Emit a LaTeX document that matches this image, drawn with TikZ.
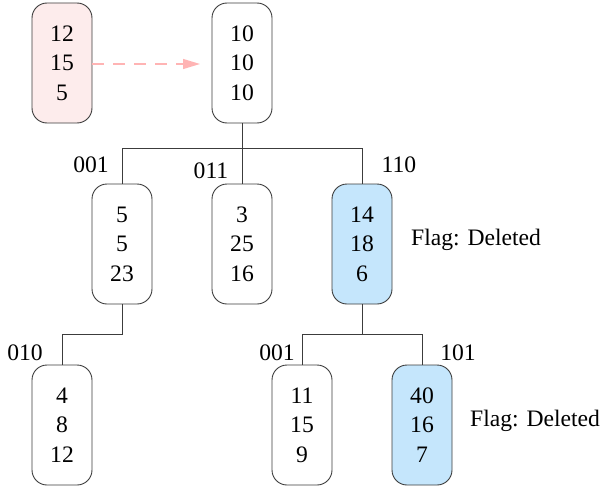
\documentclass[tikz,border=0pt]{standalone}
\usepackage{fontspec}
\setmainfont{Liberation Serif}
\usetikzlibrary{arrows.meta}
\definecolor{edgegray}{RGB}{60,60,60}
\definecolor{pinkfill}{RGB}{253,236,236}
\definecolor{bluefill}{RGB}{197,230,252}
\definecolor{arrowpink}{RGB}{255,180,180}
\tikzset{
  keybox/.style={draw=edgegray, line width=0.9pt, rounded corners=15pt,
    minimum width=60pt, minimum height=120pt, inner sep=0pt, align=center,
    font=\fontsize{23.6}{29.5}\selectfont},
  pinkbox/.style={keybox, fill=pinkfill},
  bluebox/.style={keybox, fill=bluefill},
  lbl/.style={font=\fontsize{23.6}{28}\selectfont, inner sep=0pt},
  link/.style={draw=edgegray, line width=0.9pt},
}
\begin{document}
\begin{tikzpicture}[x=1pt,y=-1pt]
  \useasboundingbox (0,0) rectangle (602,487);
  % nodes of the tree
  \node[pinkbox] (ins) at (62,63) {12\\15\\5};
  \node[keybox] (root) at (242,63) {10\\10\\10};
  \node[keybox] (a) at (122,244) {5\\5\\23};
  \node[keybox] (b) at (242,244) {3\\25\\16};
  \node[bluebox] (c) at (362,244) {14\\18\\6};
  \node[keybox] (d) at (62,425) {4\\8\\12};
  \node[keybox] (e) at (302,425) {11\\15\\9};
  \node[bluebox] (f) at (422,425) {40\\16\\7};
  % junction points
  \coordinate (j0) at (242,148);
  \coordinate (j1) at (122,334);
  \coordinate (j2) at (362,334);
  \coordinate (tip) at (200,64);
  % insertion arrow
  \draw[arrowpink, line width=1.2pt, dash pattern=on 12pt off 9pt,
    -{Triangle[length=17pt,width=10pt]}] (ins.east |- tip) -- (tip);
  % branches
  \draw[link] (root.south) -- (j0);
  \draw[link] (j0) -| (a.north);
  \draw[link] (j0) -| (c.north);
  \draw[link] (j0) -- (b.north);
  \draw[link] (a.south) -- (j1) -| (d.north);
  \draw[link] (c.south) -- (j2);
  \draw[link] (j2) -| (e.north);
  \draw[link] (j2) -| (f.north);
  % branch labels
  \node[lbl] (l1) at (91,165) {001};
  \node[lbl] (l2) at (211,171) {011};
  \node[lbl] (l3) at (399,165) {110};
  \node[lbl] (l4) at (25,353) {010};
  \node[lbl] (l5) at (277,353) {001};
  \node[lbl] (l6) at (458,353) {101};
  % flags
  \node[lbl, anchor=west] (g1) at (411,240) {Flag: Deleted};
  \node[lbl, anchor=west] (g2) at (470,421) {Flag: Deleted};
\end{tikzpicture}
\end{document}
